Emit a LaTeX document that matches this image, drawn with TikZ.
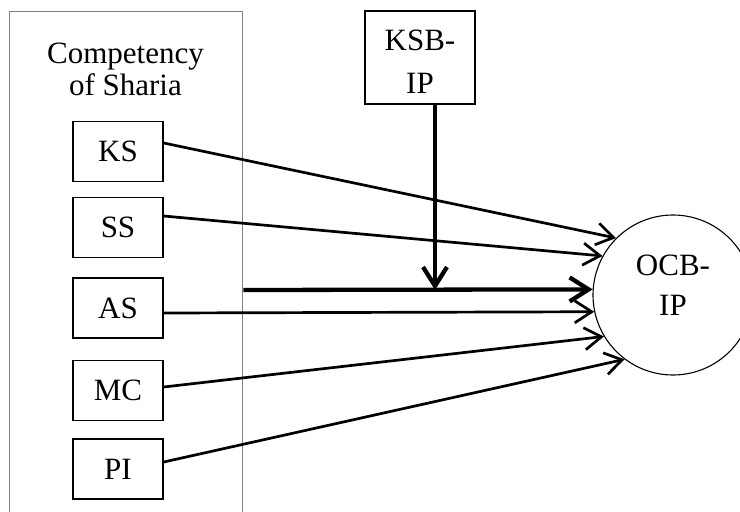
\documentclass[tikz,border=0pt]{standalone}
\usepackage{fontspec}
\setmainfont{Liberation Serif}
\usetikzlibrary{arrows.meta,calc}
\begin{document}
\begin{tikzpicture}[x=1pt,y=-1pt,
  every node/.style={font=\fontsize{31}{32}\selectfont},
  framebox/.style={draw=black!50, line width=1.3pt, minimum width=233pt,
    minimum height=520pt, inner sep=0pt, anchor=north west},
  varbox/.style={draw, line width=1.4pt, minimum width=90pt,
    minimum height=60pt, inner sep=0pt},
  link/.style={line width=2.7pt, -{Straight Barb[length=17pt,width=22pt]}},
  heavy/.style={line width=4.3pt, -{Straight Barb[length=19pt,width=24pt]}},
]
\useasboundingbox (0,0) rectangle (740,512);

% group frame with its heading
\node[framebox] (frame) at (9,11) {};
\node[align=center, inner sep=0pt, anchor=north] (title) at (125.5,39)
  {\rule{0pt}{24pt}Competency\\of Sharia};

% dimension boxes
\node[varbox] (KS) at (118,151.5) {KS};
\node[varbox] (SS) at (118,227.5) {SS};
\node[varbox] (AS) at (118,308) {AS};
\node[varbox] (MC) at (118,390.5) {MC};
\node[varbox] (PI) at (118,469) {PI};

% moderator
\node[draw, line width=1.4pt, minimum width=110pt, minimum height=93pt,
  inner sep=0pt, align=center, font=\fontsize{31}{43}\selectfont]
  (ksb) at (420,57.5) {\rule{0pt}{28pt}KSB-\\IP};

% outcome
\node[draw, circle, line width=1.1pt, minimum size=160pt, inner sep=0pt,
  align=center, font=\fontsize{31}{40}\selectfont]
  (ocb) at (673,295) {\rule{0pt}{21pt}OCB-\\IP\rule[-21pt]{0pt}{0pt}};

% paths to the outcome
\coordinate (join) at (435,290);
\draw[link] (KS.east |- 0,143) -- (ocb.135);
\draw[link] (SS.east |- 0,216) -- (ocb.151);
\draw[heavy] (frame.east |- join) -- (ocb.176.5);
\draw[link] (AS.east |- 0,313) -- (ocb.192.5);
\draw[link] (MC.east |- 0,387) -- (ocb.211.7);
\draw[link] (PI.east |- 0,462) -- (ocb.233.3);

% moderating effect
\draw[heavy] (ksb.south -| join) -- (join);
\end{tikzpicture}
\end{document}
